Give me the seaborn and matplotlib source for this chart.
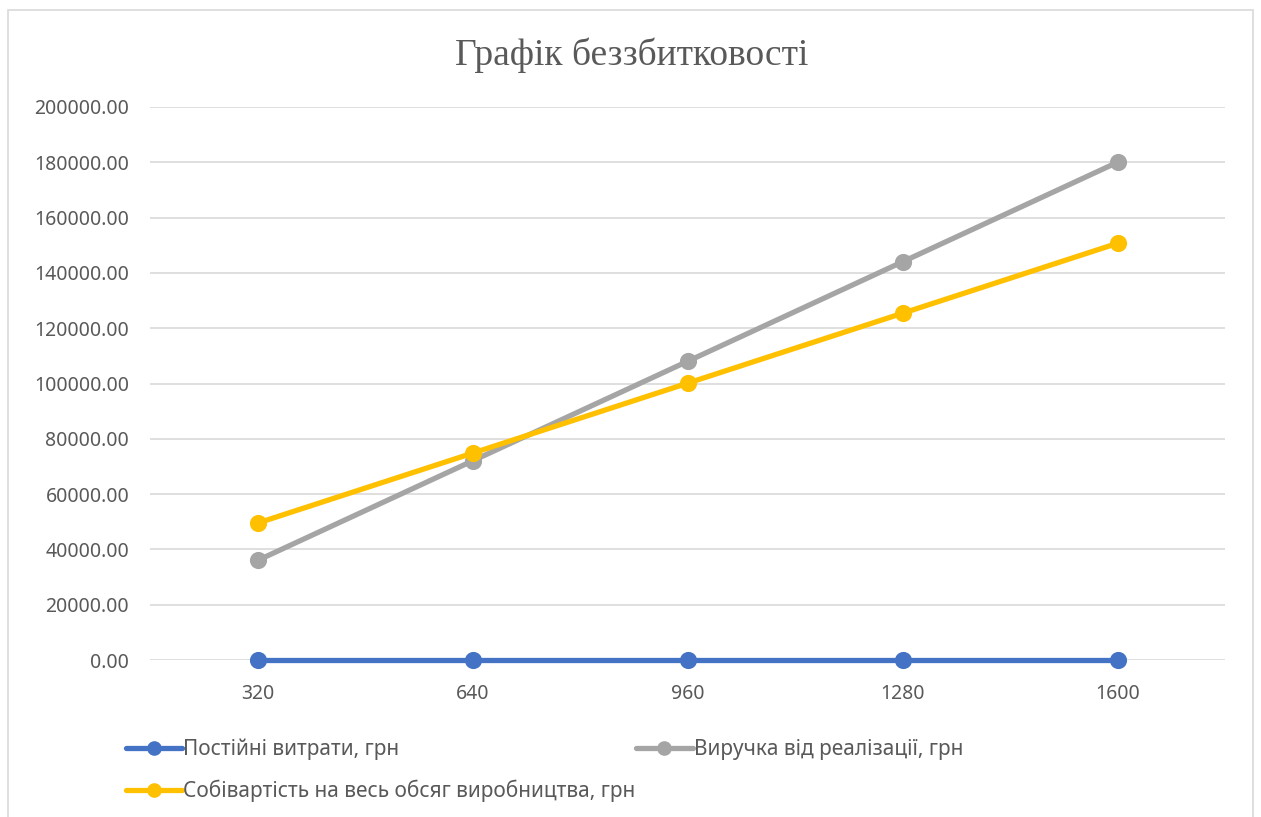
import pandas as pd
import matplotlib.pyplot as plt
import seaborn as sns
from matplotlib.lines import Line2D
from matplotlib.patches import Rectangle
from matplotlib.ticker import FuncFormatter

# Data
volumes = ['320', '640', '960', '1280', '1600']
fixed_costs = [0, 0, 0, 0, 0]
revenue = [36000, 72000, 108000, 144000, 180000]
total_cost = [49500, 74800, 100100, 125400, 150700]

series_names = ['Постійні витрати, грн',
                'Виручка від реалізації, грн',
                'Собівартість на весь обсяг виробництва, грн']
colors = ['#4472C4', '#A5A5A5', '#FFC000']

df = pd.DataFrame({
    'volume': volumes * 3,
    'value': fixed_costs + revenue + total_cost,
    'series': [series_names[0]] * 5 + [series_names[1]] * 5 + [series_names[2]] * 5,
})

sns.set_style('white')
plt.rcParams['font.family'] = ['Noto Sans', 'DejaVu Sans']

fig = plt.figure(figsize=(12.61, 8.17), dpi=100)
ax = fig.add_axes([150 / 1261, 1 - 660 / 817, 1075 / 1261, 553 / 817])

sns.pointplot(data=df, x='volume', y='value', hue='series', order=volumes,
              hue_order=series_names, palette=colors, markers='o',
              linewidth=3.8, markersize=9.5, ax=ax, legend=False)
# the zero line sits on the axis edge, keep it unclipped
for ln in ax.lines:
    ln.set_clip_on(False)
for c in ax.collections:
    c.set_clip_on(False)

ax.set_ylim(0, 200000)
ax.set_xlim(-0.5, 4.5)
ax.set_yticks(range(0, 200001, 20000))
ax.yaxis.set_major_formatter(FuncFormatter(lambda v, p: f'{v:.2f}'))
ax.grid(axis='y', color='#D9D9D9', linewidth=1.2)
ax.set_axisbelow(True)
for s in ax.spines.values():
    s.set_visible(False)
ax.set_xlabel('')
ax.set_ylabel('')
ax.tick_params(axis='both', length=0, labelsize=14, labelcolor='#595959')
ax.tick_params(axis='y', pad=15)
ax.tick_params(axis='x', pad=17)

fig.text(632 / 1261, 1 - 55 / 817, 'Графік беззбитковості', ha='center', va='center',
         fontsize=27, color='#595959', family=['Liberation Serif', 'DejaVu Serif'])

# legend: blue + yellow in first column, gray in second
handles = [Line2D([], [], color=colors[i], lw=3.8, marker='o', markersize=9.5) for i in (0, 2, 1)]
labels = [series_names[i] for i in (0, 2, 1)]
fig.legend(handles, labels, ncol=2, loc='upper left',
           bbox_to_anchor=(107 / 1261, 1 - 720 / 817), frameon=False,
           fontsize=15, labelcolor='#595959', handlelength=2.7, handletextpad=0.05,
           columnspacing=0.05, labelspacing=0.95)

# outer chart border
fig.patches.append(Rectangle((8 / 1261, -0.01), 1245 / 1261, 1 - 10 / 817 + 0.01,
                             transform=fig.transFigure, fill=False,
                             edgecolor='#D9D9D9', linewidth=1.2))

fig.savefig('out.png', dpi=100)
